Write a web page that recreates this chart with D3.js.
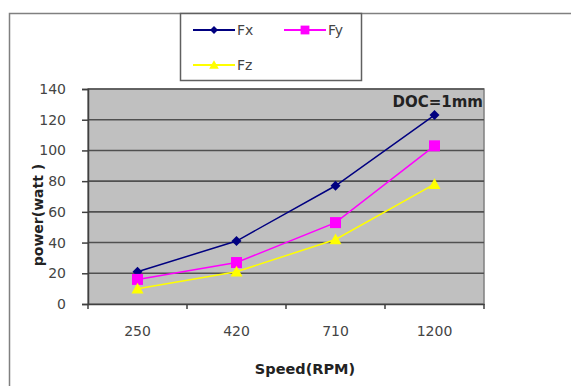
<!DOCTYPE html>
<html>
<head>
<meta charset="utf-8">
<script src="https://cdn.jsdelivr.net/npm/d3@7"></script>
<style>
  body { margin: 0; background: #fff; }
  text { font-family: "DejaVu Sans", "Liberation Sans", Arial, sans-serif; }
</style>
</head>
<body>
<div id="chart"></div>
<script>
// values
const speeds = ["250", "420", "710", "1200"];
const fx = [21, 41, 77, 123];
const fy = [16, 27, 53, 103];
const fz = [10, 21, 42, 78];
const yTicks = [0, 20, 40, 60, 80, 100, 120, 140];

const series = [
    {name: "Fx", values: fx, color: "#000080", marker: "diamond"},
    {name: "Fy", values: fy, color: "#ff00ff", marker: "square"},
    {name: "Fz", values: fz, color: "#ffff00", marker: "triangle"}
];

function main() {
    const W = 571, H = 386;
    const plot = {left: 88, right: 484, top: 89, bottom: 304};

    const svg = d3.select("#chart").append("svg")
        .attr("width", W)
        .attr("height", H);

    // outer chart border
    svg.append("rect")
        .attr("x", 9.5).attr("y", 13.5)
        .attr("width", 600).attr("height", 400)
        .attr("fill", "#fff")
        .attr("stroke", "#808080")
        .attr("stroke-width", 1.5);

    const xScale = d3.scaleBand()
        .domain(speeds)
        .range([plot.left, plot.right]);

    const yScale = d3.scaleLinear()
        .domain([0, 140])
        .range([plot.bottom, plot.top]);

    // plot area
    svg.append("rect")
        .attr("x", plot.left).attr("y", plot.top)
        .attr("width", plot.right - plot.left)
        .attr("height", plot.bottom - plot.top)
        .attr("fill", "#c0c0c0")
        .attr("stroke", "#808080")
        .attr("stroke-width", 1.5);

    // gridlines
    svg.append("g")
        .selectAll("line")
        .data(yTicks.filter(d => d > 0))
        .enter()
        .append("line")
        .attr("x1", plot.left).attr("x2", plot.right)
        .attr("y1", d => yScale(d)).attr("y2", d => yScale(d))
        .attr("stroke", "#505050")
        .attr("stroke-width", 1.6);

    // y axis
    const yAxis = svg.append("g")
        .attr("transform", `translate(${plot.left}, 0)`)
        .call(d3.axisLeft(yScale).tickValues(yTicks).tickSize(6).tickPadding(16));
    yAxis.select(".domain").attr("stroke", "#404040").attr("stroke-width", 1.5);
    yAxis.selectAll(".tick line").attr("stroke", "#404040").attr("stroke-width", 1.5);
    yAxis.selectAll("text").style("font-size", "14px").attr("fill", "#444");

    // x axis
    const xAxis = svg.append("g")
        .attr("transform", `translate(0, ${plot.bottom})`)
        .call(d3.axisBottom(xScale).tickSize(0).tickPadding(22));
    xAxis.select(".domain").attr("stroke", "#404040").attr("stroke-width", 1.5);
    xAxis.selectAll("text").style("font-size", "14px").attr("fill", "#444");
    // tick marks sit between categories
    const bounds = speeds.map(s => xScale(s)).concat([plot.right]);
    xAxis.selectAll(".sep")
        .data(bounds)
        .enter()
        .append("line")
        .attr("x1", d => d).attr("x2", d => d)
        .attr("y1", 0).attr("y2", 5)
        .attr("stroke", "#404040")
        .attr("stroke-width", 1.5);

    // lines
    const line = d3.line()
        .x((d, i) => xScale(speeds[i]) + xScale.bandwidth() / 2)
        .y(d => yScale(d));

    series.forEach(function(s) {
        svg.append("path")
            .datum(s.values)
            .attr("d", line)
            .attr("fill", "none")
            .attr("stroke", s.color)
            .attr("stroke-width", 1.5);

        svg.selectAll(".m-" + s.name)
            .data(s.values)
            .enter()
            .append("path")
            .attr("class", "m-" + s.name)
            .attr("transform", (d, i) => `translate(${xScale(speeds[i]) + xScale.bandwidth() / 2}, ${yScale(d)})`)
            .attr("d", markerPath(s.marker, 1))
            .attr("fill", s.color);
    });

    // annotation
    svg.append("text")
        .attr("x", plot.right - 1)
        .attr("y", 107)
        .attr("text-anchor", "end")
        .style("font-size", "15px")
        .style("font-weight", "bold")
        .attr("fill", "#222")
        .text("DOC=1mm");

    // axis titles
    svg.append("text")
        .attr("transform", "translate(43, 215) rotate(-90)")
        .attr("text-anchor", "middle")
        .style("font-size", "14px")
        .style("font-weight", "bold")
        .attr("fill", "#222")
        .text("power(watt )");

    svg.append("text")
        .attr("x", 305)
        .attr("y", 374)
        .attr("text-anchor", "middle")
        .style("font-size", "14.5px")
        .style("font-weight", "bold")
        .attr("fill", "#222")
        .text("Speed(RPM)");

    // legend
    const legend = svg.append("g");
    legend.append("rect")
        .attr("x", 180.5).attr("y", 13.5)
        .attr("width", 181).attr("height", 67)
        .attr("fill", "#fff")
        .attr("stroke", "#606060")
        .attr("stroke-width", 1.5);

    const legendPos = [[193, 30], [284, 30], [193, 65]];
    series.forEach(function(s, i) {
        const [lx, ly] = legendPos[i];
        legend.append("line")
            .attr("x1", lx).attr("x2", lx + 42)
            .attr("y1", ly).attr("y2", ly)
            .attr("stroke", s.color)
            .attr("stroke-width", 2);
        legend.append("path")
            .attr("transform", `translate(${lx + 21}, ${ly})`)
            .attr("d", markerPath(s.marker, 0.8))
            .attr("fill", s.color);
        legend.append("text")
            .attr("x", lx + 44)
            .attr("y", ly + 5)
            .style("font-size", "14px")
            .attr("fill", "#444")
            .text(s.name);
    });
}

function markerPath(kind, k) {
    if (kind === "diamond") {
        const r = 5 * k;
        return `M0,${-r}L${r},0L0,${r}L${-r},0Z`;
    }
    if (kind === "square") {
        const r = 5.5 * k;
        return `M${-r},${-r}H${r}V${r}H${-r}Z`;
    }
    const r = 6 * k;
    return `M0,${-r}L${r},${r * 0.8}L${-r},${r * 0.8}Z`;
}

main();
</script>
</body>
</html>
